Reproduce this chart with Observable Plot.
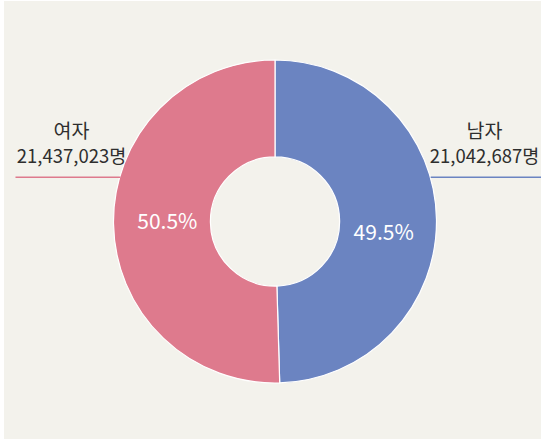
<!DOCTYPE html>
<html>
<head>
<meta charset="utf-8">
<script src="https://cdn.jsdelivr.net/npm/d3@7"></script>
<script src="https://cdn.jsdelivr.net/npm/@observablehq/plot@0.6"></script>
<style>
  html, body { margin: 0; padding: 0; background: #ffffff; }
  #chart { position: absolute; left: 4px; top: 1px; width: 537px; height: 438px; background: #f3f2ec; }
  #chart svg { display: block; background: transparent; }
</style>
</head>
<body>
<div id="chart"></div>
<script>
// ---- data ----
const categories = ["남자", "여자"];
const counts = [21042687, 21437023];
const percentLabels = ["49.5%", "50.5%"];
const countLabels = ["21,042,687명", "21,437,023명"];
const sliceColors = ["#6b84c1", "#de7a8d"];

// ---- geometry ----
const W = 537, H = 438;
const cx = 271, cy = 220.5, R = 161.5;
const innerRatio = 0.40;

const rows = categories.map((c, i) => ({
  name: c, value: counts[i], pct: percentLabels[i], countLabel: countLabels[i], color: sliceColors[i]
}));
const pie = d3.pie().sort(null).value(d => d.value)(rows);
rows.forEach((r, i) => {
  r.a0 = pie[i].startAngle; r.a1 = pie[i].endAngle;
  r.mid = (r.a0 + r.a1) / 2;
});

// label placement derived from slice geometry
const labelR = 0.67;
const leaderY = 0.277;
const leaderEdge = Math.sqrt(1 - leaderY * leaderY);
const sideDir = r => (Math.sin(r.mid) >= 0 ? 1 : -1);

const pctData = rows.map(r => ({
  x: labelR * Math.sin(r.mid),
  y: labelR * Math.cos(r.mid),
  text: r.pct,
  name: r.name
}));
const leaderData = rows.map(r => {
  const s = sideDir(r);
  return { x1: s * leaderEdge, x2: s * (s > 0 ? 1.66 : 1.61), y: leaderY, color: r.color };
});
const nameData = rows.map(r => {
  const s = sideDir(r);
  return { x: s > 0 ? 1.294 : -1.263, yName: 0.56, yCount: 0.40, name: r.name, count: r.countLabel };
});

// donut drawn via the plot's x/y scales
function donut(index, scales, values, dimensions) {
  const x0 = scales.x(0), y0 = scales.y(0);
  const rPx = scales.x(1) - scales.x(0);
  const arc = d3.arc().innerRadius(rPx * innerRatio).outerRadius(rPx);
  const g = d3.create("svg:g").attr("transform", `translate(${x0},${y0})`);
  g.selectAll("path").data(rows).join("path")
    .attr("d", d => arc({startAngle: d.a0, endAngle: d.a1}))
    .attr("fill", d => d.color)
    .attr("stroke", "#ffffff")
    .attr("stroke-width", 1.2)
    .attr("stroke-linejoin", "round");
  return g.node();
}

const font = "'Noto Sans CJK KR', 'Noto Sans', sans-serif";

const plot = Plot.plot({
  width: W,
  height: H,
  margin: 0,
  x: { domain: [-1, 1], range: [cx - R, cx + R] },
  y: { domain: [-1, 1], range: [cy + R, cy - R] },
  axis: null,
  style: { background: "transparent", fontFamily: font },
  marks: [
    donut,
    Plot.link(leaderData, { x1: "x1", x2: "x2", y1: "y", y2: "y", stroke: "color", strokeWidth: 1.3 }),
    Plot.text(nameData, { x: "x", y: "yName", text: "name", fontSize: 19.5, fill: "#2e2e2e", fontFamily: font }),
    Plot.text(nameData, { x: "x", y: "yCount", text: "count", fontSize: 18.5, fill: "#2e2e2e", fontFamily: font, letterSpacing: "-0.5px" }),
    Plot.text(pctData.filter(d => d.name === "여자"), { x: "x", y: "y", text: "text", fontSize: 21, fill: "#ffffff", fontFamily: font, dy: -1 }),
    Plot.text(pctData.filter(d => d.name === "남자"), { x: "x", y: "y", text: "text", fontSize: 21, fill: "#ffffff", fontFamily: font, dy: 13 })
  ]
});
document.getElementById("chart").appendChild(plot);
</script>
</body>
</html>
